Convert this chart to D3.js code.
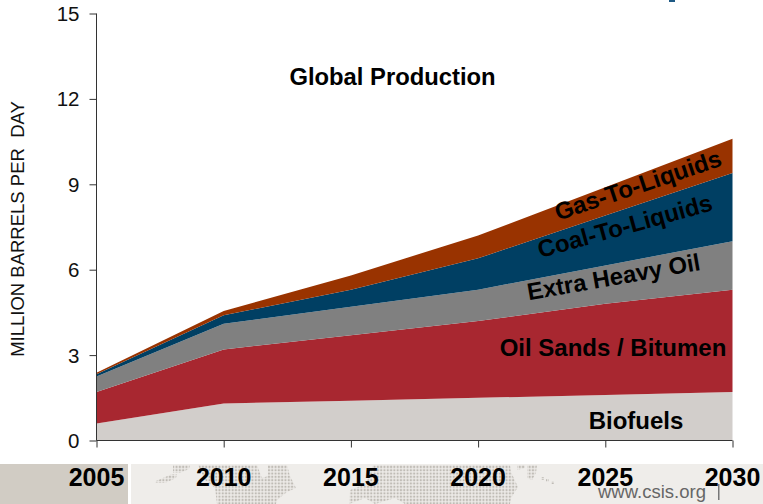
<!DOCTYPE html>
<html><head><meta charset="utf-8">
<style>html,body{margin:0;padding:0;background:#fff;overflow:hidden}svg{display:block}text{font-family:"Liberation Sans",Arial,sans-serif;white-space:pre}</style>
<script src="https://cdn.jsdelivr.net/npm/d3@7"></script></head><body><svg id="c" width="763" height="504"></svg>
<script>
const years=[2005,2010,2015,2020,2025,2030];
const seriesNames=["Biofuels","Oil Sands / Bitumen","Extra Heavy Oil","Coal-To-Liquids","Gas-To-Liquids"];
const biofuels=[0.6,1.3,1.4,1.5,1.6,1.7];
const oilSands=[1.1,1.9,2.3,2.7,3.2,3.6];
const extraHeavy=[0.55,0.9,1.0,1.1,1.35,1.7];
const coalToLiquids=[0.08,0.3,0.6,1.1,1.75,2.4];
const gasToLiquids=[0.05,0.15,0.5,0.8,1.0,1.2];
const seriesColors=["#d2cecb","#a82730","#808080","#003f63","#993300"];
const yTicks=[0,3,6,9,12,15];
const yTitle="MILLION BARRELS PER  DAY";
const chartTitle="Global Production";
const footer="www.csis.org";

const svg=d3.select("#c");
const x=d3.scaleLinear().domain([2005,2030]).range([96.5,732.5]);
const y=d3.scaleLinear().domain([0,15]).range([440.5,13.5]);

// footer band
const defs=svg.append("defs");
const pat=defs.append("pattern").attr("id","dots").attr("width",3.3).attr("height",3.3).attr("patternUnits","userSpaceOnUse");
pat.append("rect").attr("x",0.6).attr("y",0.6).attr("width",2.1).attr("height",2.1).attr("fill","#bfbbb5");
svg.append("rect").attr("x",0).attr("y",464).attr("width",128).attr("height",40).attr("fill","#d1ccc4");
svg.append("rect").attr("x",131).attr("y",464).attr("width",632).attr("height",40).attr("fill","#efedea");
const land=[
 "M173,465L190,465L189,469L180,473L173,473Z","M155,483L156,481L172,474L177,474L176,478L165,483Z",
 "M198,465L257,465L262,478L268,476L268,465L287,465L290,476L296,488L287,492L277,500L276,504L217,504L215,488L205,480Z",
 "M349,504L350,490L366,484L373,465L510,465L511,472L518,487L511,498L510,504L405,504L395,498L375,504L365,498Z",
 "M517,465L525,465L525,468L517,470Z","M527,465L537,465L536,473L532,480L527,478Z",
 "M541,477L544,477L544,480L541,480Z","M546,479L549,479L549,482L546,482Z","M551,481L554,481L554,484L551,484Z"
];
svg.append("g").selectAll("path").data(land).join("path").attr("d",d=>d).attr("fill","url(#dots)");

// stacked areas
const rows=years.map((yr,i)=>({yr,v0:biofuels[i],v1:oilSands[i],v2:extraHeavy[i],v3:coalToLiquids[i],v4:gasToLiquids[i]}));
const stack=d3.stack().keys(["v0","v1","v2","v3","v4"])(rows);
const area=d3.area().x(d=>x(d.data.yr)).y0(d=>y(d[0])).y1(d=>y(d[1]));
svg.append("g").selectAll("path").data(stack).join("path").attr("d",area).attr("fill",(d,i)=>seriesColors[i]);

// axes
const axisColor="#333";
const ay=svg.append("g").attr("transform","translate(96.5,0)").call(d3.axisLeft(y).tickValues(yTicks).tickSize(7).tickFormat(d3.format("d")));
ay.selectAll("text").attr("font-size",20.5).attr("fill","#111").attr("x",-17).attr("dy","0.34em");
const ax=svg.append("g").attr("transform","translate(0,440.5)").call(d3.axisBottom(x).tickValues(years).tickSize(7).tickFormat(""));
[ay,ax].forEach(g=>{g.selectAll("path,line").attr("stroke",axisColor).attr("stroke-width",1);g.select(".domain").attr("d",g===ay?"M0,13.5V440.5":"M96.5,0H732.5");});

// year labels
svg.append("g").selectAll("text").data(years).join("text")
 .attr("x",d=>x(d)).attr("y",486).attr("text-anchor","middle").attr("font-size",25).attr("font-weight","bold").attr("fill","#000")
 .text(d=>d);

// text
svg.append("text").attr("x",392.5).attr("y",85).attr("text-anchor","middle").attr("font-size",23.8).attr("font-weight","bold").text(chartTitle);
svg.append("text").attr("transform","translate(24,229) rotate(-90)").attr("text-anchor","middle").attr("font-size",18.5).attr("fill","#111").text(yTitle);
const labelPos=[[636,429,0,24],[613,356,0,24],[615,285,-10,23.9],[627,234,-15.5,23.9],[640.5,193,-18.5,24]];
svg.append("g").selectAll("text").data(seriesNames).join("text")
 .attr("transform",(d,i)=>`translate(${labelPos[i][0]},${labelPos[i][1]}) rotate(${labelPos[i][2]})`)
 .attr("text-anchor","middle").attr("font-weight","bold").attr("font-size",(d,i)=>labelPos[i][3]).attr("fill","#000").text(d=>d);
svg.append("text").attr("x",598).attr("y",498).attr("font-size",18.5).attr("fill","#666").text(footer);
svg.append("rect").attr("x",718).attr("y",484).attr("width",1.5).attr("height",16).attr("fill","#777");
svg.append("rect").attr("x",669).attr("y",0).attr("width",6).attr("height",2).attr("fill","#1f5a85");
</script></body></html>
